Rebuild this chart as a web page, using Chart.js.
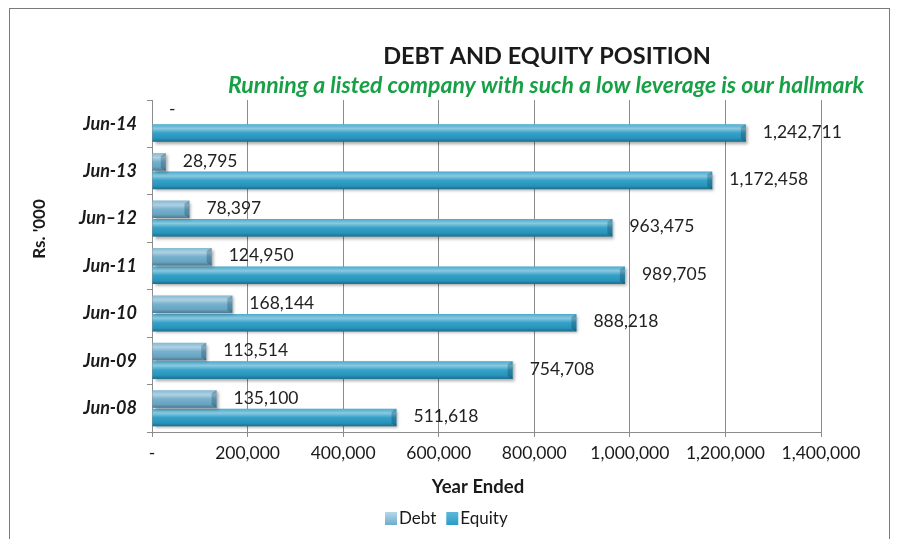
<!DOCTYPE html>
<html>
<head>
<meta charset="utf-8">
<script src="https://cdn.jsdelivr.net/npm/chart.js@4"></script>
<style>
  html, body { margin: 0; padding: 0; background: #fff; }
  #wrap { width: 898px; height: 539px; }
</style>
</head>
<body>
<div id="wrap"><canvas id="debtChart" width="898" height="539"></canvas></div>
<script>
// Debt and equity position (Rs. '000)
const years = ['Jun-14', 'Jun-13', 'Jun–12', 'Jun-11', 'Jun-10', 'Jun-09', 'Jun-08'];
const debt = [0, 28795, 78397, 124950, 168144, 113514, 135100];
const equity = [1242711, 1172458, 963475, 989705, 888218, 754708, 511618];
const xTicks = [0, 200000, 400000, 600000, 800000, 1000000, 1200000, 1400000];

const FONT = 'Lato, "Open Sans", sans-serif';
const fmt = v => v === 0 ? '-' : v.toLocaleString('en-US');

// bevel-ish shading on top of each bar, using the bar geometry from the chart
const shading = {
    id: 'shading',
    beforeDatasetsDraw(chart) {
        const ctx = chart.ctx;
        ctx.save();
        ctx.shadowColor = 'rgba(0,0,0,0.35)';
        ctx.shadowBlur = 3;
        ctx.shadowOffsetX = 2;
        ctx.shadowOffsetY = 2;
    },
    afterDatasetsDraw(chart) {
        const ctx = chart.ctx;
        ctx.restore();
        chart.data.datasets.forEach((ds, di) => {
            chart.getDatasetMeta(di).data.forEach((bar, i) => {
                const w = bar.x - bar.base;
                if (w <= 0) return;
                const top = bar.y - bar.height / 2;
                const g = ctx.createLinearGradient(0, top, 0, top + bar.height);
                g.addColorStop(0, 'rgba(255,255,255,0.15)');
                g.addColorStop(0.25, 'rgba(255,255,255,0.45)');
                g.addColorStop(0.5, 'rgba(255,255,255,0.05)');
                g.addColorStop(0.8, 'rgba(0,0,0,0.05)');
                g.addColorStop(1, 'rgba(0,0,0,0.3)');
                ctx.fillStyle = g;
                ctx.fillRect(bar.base, top, w, bar.height);
                // darker bevelled end
                ctx.fillStyle = 'rgba(0,40,60,0.25)';
                ctx.beginPath();
                ctx.moveTo(bar.x - 5, top + 3);
                ctx.lineTo(bar.x, top);
                ctx.lineTo(bar.x, top + bar.height);
                ctx.lineTo(bar.x - 5, top + bar.height - 3);
                ctx.closePath();
                ctx.fill();
            });
        });

        // value labels
        ctx.fillStyle = '#222';
        ctx.font = '17.5px ' + FONT;
        ctx.textAlign = 'left';
        ctx.textBaseline = 'middle';
        chart.data.datasets.forEach((ds, di) => {
            chart.getDatasetMeta(di).data.forEach((bar, i) => {
                const v = ds.data[i];
                const dy = (di === 0 && v === 0) ? 5 : 1;
                ctx.fillText(fmt(v), bar.x + 17, bar.y - dy);
            });
        });
    },
    afterDraw(chart) {
        const ctx = chart.ctx;
        ctx.save();
        // frame
        ctx.strokeStyle = '#7a7a7a';
        ctx.lineWidth = 1;
        ctx.strokeRect(9.5, 8.5, 880, 560);

        ctx.textAlign = 'center';
        ctx.textBaseline = 'middle';
        ctx.fillStyle = '#1a1a1a';
        ctx.font = 'bold 23.5px ' + FONT;
        ctx.fillText('DEBT AND EQUITY POSITION', 547, 56);
        ctx.fillStyle = '#17a045';
        ctx.font = 'italic bold 23px ' + FONT;
        ctx.fillText('Running a listed company with such a low leverage is our hallmark', 546, 86);

        // axis titles
        ctx.fillStyle = '#1a1a1a';
        ctx.font = 'bold 18.5px ' + FONT;
        ctx.fillText('Year Ended', 478, 487);
        ctx.font = 'bold 17px ' + FONT;
        ctx.save();
        ctx.translate(40, 229);
        ctx.rotate(-Math.PI / 2);
        ctx.fillText("Rs. '000", 0, 0);
        ctx.restore();

        // legend
        const items = [['Debt', 0], ['Equity', 1]];
        let x = 385;
        ctx.font = '17px ' + FONT;
        ctx.textAlign = 'left';
        items.forEach(([name, di]) => {
            const g = ctx.createLinearGradient(0, 512, 0, 525);
            const c = chart.data.datasets[di].backgroundColor;
            g.addColorStop(0, di === 0 ? '#b4d8ea' : '#5fb8da');
            g.addColorStop(1, c);
            ctx.fillStyle = g;
            ctx.fillRect(x, 512, 12, 13);
            ctx.fillStyle = '#1a1a1a';
            ctx.fillText(name, x + 14, 519);
            x += 14 + ctx.measureText(name).width + 10;
        });
        ctx.restore();
    }
};

new Chart(document.getElementById('debtChart'), {
    type: 'bar',
    data: {
        labels: years,
        datasets: [
            { label: 'Debt', data: debt, backgroundColor: '#6eaccb' },
            { label: 'Equity', data: equity, backgroundColor: '#2a9cc6' }
        ]
    },
    options: {
        indexAxis: 'y',
        responsive: false,
        animation: false,
        layout: { padding: { top: 100, right: 77, left: 0, bottom: 0 } },
        datasets: { bar: { categoryPercentage: 0.78, barPercentage: 0.95 } },
        plugins: {
            legend: { display: false },
            tooltip: { enabled: false }
        },
        scales: {
            x: {
                min: 0,
                max: 1400000,
                afterBuildTicks: s => { s.ticks = xTicks.map(v => ({ value: v })); },
                afterFit: s => { s.height = 107; },
                grid: { color: '#8c8c8c', tickLength: 5, lineWidth: 1 },
                border: { color: '#8c8c8c' },
                ticks: {
                    padding: 6,
                    color: '#1a1a1a',
                    font: { family: FONT, size: 17.5 },
                    maxRotation: 0,
                    callback: v => fmt(v)
                }
            },
            y: {
                afterFit: s => { s.width = 152; },
                grid: { drawOnChartArea: false, color: '#8c8c8c', tickLength: 5 },
                border: { color: '#8c8c8c' },
                ticks: {
                    padding: 10,
                    color: '#1a1a1a',
                    font: { family: FONT, size: 18, style: 'italic', weight: 'bold' }
                }
            }
        }
    },
    plugins: [shading]
});
</script>
</body>
</html>
